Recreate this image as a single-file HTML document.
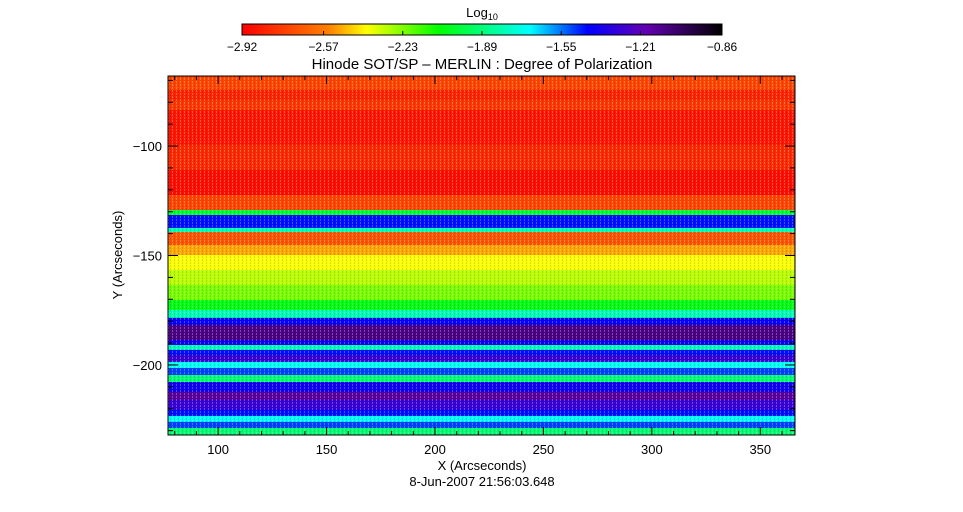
<!DOCTYPE html>
<html><head><meta charset="utf-8"><style>
body{margin:0;background:#fff;}
svg{display:block;font-family:"Liberation Sans",sans-serif;}
</style></head><body>
<svg id="chart" width="963" height="512">
<defs>
<linearGradient id="cmap" x1="0" x2="1" y1="0" y2="0">
<stop offset="0" stop-color="#ff0000"/><stop offset="0.18" stop-color="#ff8000"/><stop offset="0.26" stop-color="#ffff00"/><stop offset="0.41" stop-color="#00ff00"/><stop offset="0.6" stop-color="#00ffff"/><stop offset="0.72" stop-color="#0000ff"/><stop offset="0.84" stop-color="#6400b4"/><stop offset="1" stop-color="#000000"/>
</linearGradient>
<pattern id="streak" width="4" height="3" patternUnits="userSpaceOnUse">
<rect x="0" y="0" width="1" height="2" fill="#fff" opacity="0.28"/><rect x="2" y="1" width="1" height="2" fill="#000" opacity="0.12"/>
</pattern>
</defs>
<text x="482" y="17" text-anchor="middle" font-size="13">Log<tspan font-size="9" dy="3">10</tspan></text>
<rect x="242" y="24" width="480" height="11" fill="url(#cmap)" stroke="#000" stroke-width="1"/>
<g id="cbticks"></g>
<text x="482" y="69" text-anchor="middle" font-size="15">Hinode SOT/SP – MERLIN : Degree of Polarization</text>
<g id="heat"></g>
<rect x="168" y="76" width="627" height="359" fill="url(#streak)"/>
<rect x="168" y="76" width="627" height="359" fill="none" stroke="#000" stroke-width="1"/>
<g id="axes"></g>
<text x="482" y="470" text-anchor="middle" font-size="13">X (Arcseconds)</text>
<text x="482" y="486" text-anchor="middle" font-size="13">8-Jun-2007 21:56:03.648</text>
<text transform="translate(122,255) rotate(-90)" text-anchor="middle" font-size="13">Y (Arcseconds)</text>
</svg>
<script>
const rowEdges=[-68,-74.4,-79,-83.6,-99.5,-111,-122.4,-129.2,-131.5,-137.4,-139.3,-145.2,-149.8,-156.6,-163.5,-170.3,-174.9,-178.5,-181.7,-188.6,-190.9,-193.1,-195.4,-198.6,-201.4,-204.6,-207.8,-212.3,-216,-220.5,-223.3,-226,-228.8,-232];
const rowValues=[-2.72,-2.82,-2.76,-2.86,-2.8,-2.88,-2.72,-2.0,-1.45,-1.8,-2.68,-2.5,-2.38,-2.3,-2.22,-2.05,-1.8,-1.42,-1.1,-1.4,-1.8,-1.45,-1.3,-1.7,-1.5,-1.9,-1.4,-1.15,-1.3,-1.45,-1.7,-1.5,-1.9];
const cbTicks=[-2.92,-2.57,-2.23,-1.89,-1.55,-1.21,-0.86];
const xTicks=[100,150,200,250,300,350];
const yTicks=[-100,-150,-200];
const X0=76.9,X1=366,Y0=-68,Y1=-232;
const px=x=>168+(x-X0)/(X1-X0)*627;
const py=y=>76+(y-Y0)/(Y1-Y0)*359;
const cbx=v=>242+(v+2.92)/(2.06)*480;
const stops=[[0,[255,0,0]],[.18,[255,128,0]],[.26,[255,255,0]],[.41,[0,255,0]],[.6,[0,255,255]],[.72,[0,0,255]],[.84,[100,0,180]],[1,[0,0,0]]];
function cmap(v){let t=Math.max(0,Math.min(1,(v+2.92)/2.06));
for(let i=1;i<stops.length;i++){if(t<=stops[i][0]){const a=stops[i-1],b=stops[i],f=(t-a[0])/(b[0]-a[0]);
return 'rgb('+a[1].map((c,k)=>Math.round(c+(b[1][k]-c)*f)).join(',')+')';}}return '#000';}
const NS='http://www.w3.org/2000/svg';
function mk(tag,at,parent){const e=document.createElementNS(NS,tag);for(const k in at)e.setAttribute(k,at[k]);parent.appendChild(e);return e;}
const heat=document.getElementById('heat');
rowValues.forEach((v,i)=>{const y1=py(rowEdges[i]),y2=py(rowEdges[i+1]);
const r=mk('rect',{x:168,y:y1,width:627,height:y2-y1+0.5,fill:cmap(v)},heat);

});
const cb=document.getElementById('cbticks');
cbTicks.forEach(v=>{const x=cbx(v);
mk('line',{x1:x,x2:x,y1:35,y2:31,stroke:'#000'},cb);
const t=mk('text',{x:x,y:51,'text-anchor':'middle','font-size':'12'},cb);t.textContent=v.toFixed(2).replace('-','\u2212');

});
const ax=document.getElementById('axes');
for(let v=80;v<=360;v+=10){const x=px(v),L=v%50===0?8:4;
mk('line',{x1:x,x2:x,y1:435,y2:435-L,stroke:'#000'},ax);mk('line',{x1:x,x2:x,y1:76,y2:76+L,stroke:'#000'},ax);}
for(let v=-70;v>=-230;v-=10){const y=py(v),L=v%50===0?10:5;
mk('line',{x1:168,x2:168+L,y1:y,y2:y,stroke:'#000'},ax);mk('line',{x1:795,x2:795-L,y1:y,y2:y,stroke:'#000'},ax);}
xTicks.forEach(v=>{const t=mk('text',{x:px(v),y:454,'text-anchor':'middle','font-size':'13'},ax);t.textContent=v;

});
yTicks.forEach(v=>{const t=mk('text',{x:162,y:py(v)+5,'text-anchor':'end','font-size':'13'},ax);t.textContent=String(v).replace('-','\u2212');

});
</script>
</body></html>
